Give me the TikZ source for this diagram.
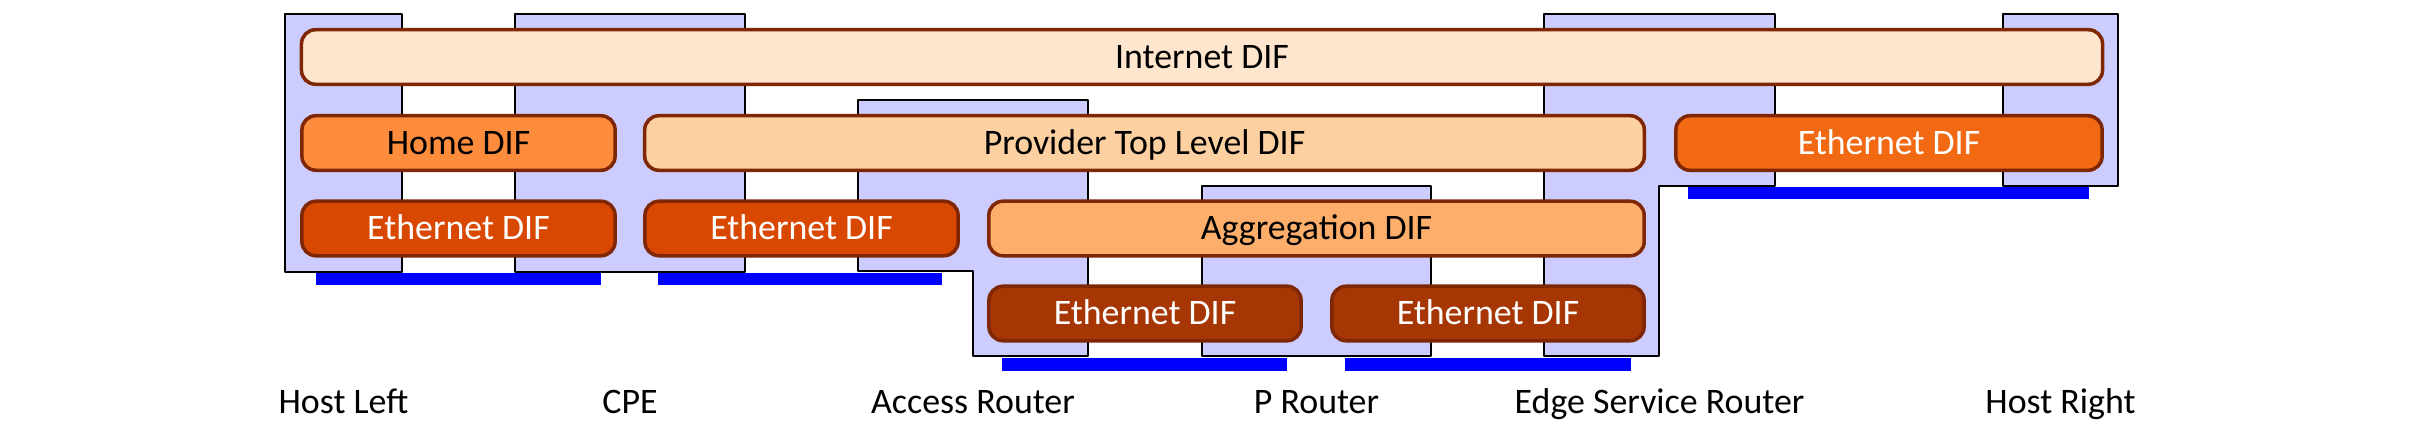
\documentclass[tikz,border=0pt]{standalone}
\usepackage{fontspec}
\setmainfont{Carlito}

\definecolor{lav}{HTML}{CCCCFF}
\definecolor{difline}{HTML}{7F2704}
\definecolor{orInternet}{HTML}{FEE6CE}
\definecolor{orProvider}{HTML}{FDD0A2}
\definecolor{orAggr}{HTML}{FDAE6B}
\definecolor{orHome}{HTML}{FD8D3C}
\definecolor{orEthRight}{HTML}{F16913}
\definecolor{orEthTop}{HTML}{D94801}
\definecolor{orEthLow}{HTML}{A63603}

\tikzset{
  sysbox/.style={fill=lav, draw=black, line width=0.8pt, line join=round},
  difbox/.style={draw=difline, line width=1pt, rounded corners=4pt,
    inner sep=0pt, minimum height=0.545cm, text height=0.65em, text depth=0pt,
    font=\fontsize{10.2}{12}\selectfont},
  ethdif/.style={difbox, text=white},
  link/.style={fill=blue, draw=none},
  devlabel/.style={anchor=base, inner sep=0pt, font=\fontsize{10.2}{12}\selectfont}
}

\begin{document}
\begin{tikzpicture}[x=0.01cm, y=-0.01cm]
    \useasboundingbox (0,0) rectangle (2410,434);

    % physical links
    \fill[link] (316,273) rectangle (601,285);
    \fill[link] (658,273) rectangle (942,285);
    \fill[link] (1002,358) rectangle (1287,371);
    \fill[link] (1345,358) rectangle (1631,371);
    \fill[link] (1688,187) rectangle (2089,199);

    % systems
    \draw[sysbox] (285,14) rectangle (402,272);
    \draw[sysbox] (515,14) rectangle (745,272);
    \draw[sysbox] (858,100) -- (1088,100) -- (1088,356) -- (973,356) -- (973,271) -- (858,271) -- cycle;
    \draw[sysbox] (1202,186) rectangle (1431,356);
    \draw[sysbox] (1544,14) -- (1775,14) -- (1775,186) -- (1659,186) -- (1659,356) -- (1544,356) -- cycle;
    \draw[sysbox] (2003,14) rectangle (2118,186);

    % DIFs
    \node[difbox, fill=orInternet, minimum width=18.00cm] (internet) at (1202,57) {Internet DIF};
    \node[difbox, fill=orHome, minimum width=3.13cm] (home) at (458.5,143) {Home DIF};
    \node[difbox, fill=orProvider, minimum width=9.99cm] (provider) at (1144.5,143) {Provider Top Level DIF};
    \node[ethdif, fill=orEthRight, minimum width=4.26cm] (ethRight) at (1889,143) {Ethernet DIF};
    \node[ethdif, fill=orEthTop, minimum width=3.13cm] (ethHome) at (458.5,228.5) {Ethernet DIF};
    \node[ethdif, fill=orEthTop, minimum width=3.13cm] (ethAccess) at (801.5,228.5) {Ethernet DIF};
    \node[difbox, fill=orAggr, minimum width=6.55cm] (aggr) at (1316.5,228.5) {Aggregation DIF};
    \node[ethdif, fill=orEthLow, minimum width=3.12cm] (ethP) at (1145,313.5) {Ethernet DIF};
    \node[ethdif, fill=orEthLow, minimum width=3.12cm] (ethEdge) at (1488,313.5) {Ethernet DIF};

    % system names
    \node[devlabel] (hostLeft) at (343.5,413) {Host Left};
    \node[devlabel] (cpe) at (630,413) {CPE};
    \node[devlabel] (access) at (973,413) {Access Router};
    \node[devlabel] (pRouter) at (1316.5,413) {P Router};
    \node[devlabel] (edge) at (1659.5,413) {Edge Service Router};
    \node[devlabel] (hostRight) at (2060.5,413) {Host Right};
  \end{tikzpicture}
\end{document}
